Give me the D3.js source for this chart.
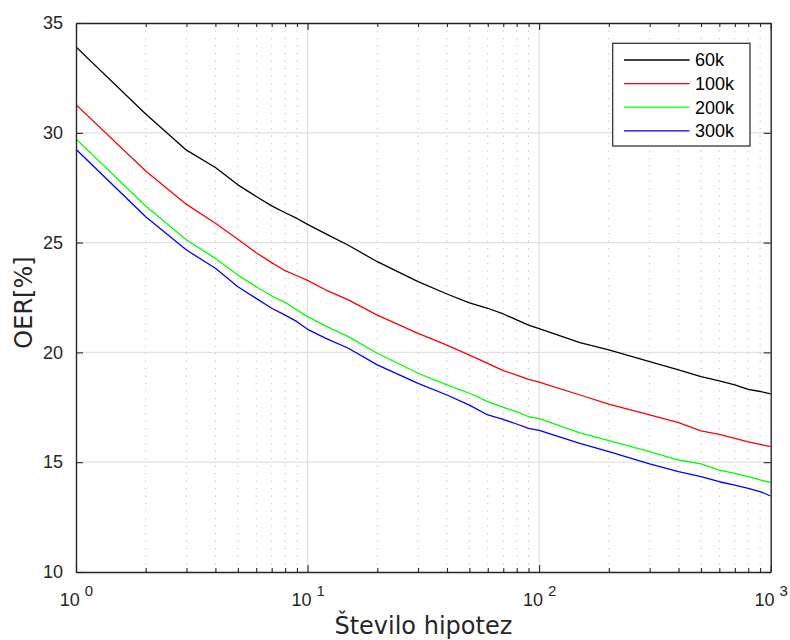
<!DOCTYPE html>
<html>
<head>
<meta charset="utf-8">
<script src="https://cdn.jsdelivr.net/npm/d3@7"></script>
<style>
  html, body { margin: 0; padding: 0; background: #fff; }
  svg { display: block; }
</style>
</head>
<body>
<svg id="chart" width="790" height="640"></svg>
<script>
// Number of hypotheses (log axis) and error rate per training-set size
const hypotheses = [1, 2, 3, 4, 5, 6, 7, 8, 9, 10, 12, 15, 20, 30, 40, 50, 60, 70, 80, 90,
                    100, 150, 200, 300, 400, 500, 600, 700, 800, 900, 1000];
const oer60k  = [33.91, 30.86, 29.21, 28.42, 27.63, 27.10, 26.67, 26.36, 26.10, 25.83, 25.40, 24.88,
                 24.13, 23.22, 22.66, 22.26, 22.01, 21.75, 21.48, 21.24, 21.08, 20.44, 20.11, 19.58,
                 19.20, 18.90, 18.70, 18.52, 18.32, 18.22, 18.11];
const oer100k = [31.28, 28.26, 26.74, 25.88, 25.15, 24.54, 24.09, 23.72, 23.49, 23.28, 22.84, 22.39,
                 21.70, 20.87, 20.33, 19.88, 19.50, 19.17, 18.97, 18.77, 18.65, 18.06, 17.65, 17.15,
                 16.80, 16.43, 16.27, 16.09, 15.93, 15.81, 15.71];
const oer200k = [29.72, 26.67, 25.12, 24.28, 23.52, 22.99, 22.57, 22.28, 21.93, 21.63, 21.20, 20.72,
                 19.96, 19.05, 18.52, 18.14, 17.76, 17.50, 17.30, 17.07, 16.98, 16.34, 15.98, 15.48,
                 15.10, 14.92, 14.64, 14.49, 14.34, 14.19, 14.07];
const oer300k = [29.25, 26.18, 24.66, 23.83, 22.99, 22.46, 22.01, 21.70, 21.40, 21.05, 20.64, 20.19,
                 19.43, 18.59, 18.06, 17.60, 17.15, 16.95, 16.74, 16.54, 16.45, 15.86, 15.48, 14.92,
                 14.57, 14.34, 14.11, 13.96, 13.81, 13.66, 13.46];

const seriesNames  = ["60k", "100k", "200k", "300k"];
const seriesValues = [oer60k, oer100k, oer200k, oer300k];
const seriesColors = ["#000000", "#ff0000", "#00ff00", "#0000ff"];

const xMajorTicks = [1, 10, 100, 1000];
const xTickExponents = ["0", "1", "2", "3"];
const yTicks = [10, 15, 20, 25, 30, 35];
const xLabel = "Število hipotez";
const yLabel = "OER[%]";

// ---- layout ----
const W = 790, H = 640;
const plotL = 76, plotR = 770.7, plotT = 23, plotB = 572;
const axisColor = "#262626";
const tickFont = "'Liberation Sans', Arial, Helvetica, sans-serif";
const labelFont = "'DejaVu Sans', sans-serif";

const svg = d3.select("#chart");
svg.append("rect").attr("width", W).attr("height", H).attr("fill", "#fff");

const x = d3.scaleLog().domain([1, 1000]).range([plotL, plotR]);
const y = d3.scaleLinear().domain([10, 35]).range([plotB, plotT]);

const xMinorTicks = [];
[1, 10, 100].forEach(d => { for (let k = 2; k <= 9; k++) xMinorTicks.push(d * k); });

// ---- grid ----
const grid = svg.append("g");
grid.selectAll("line.minor").data(xMinorTicks).join("line")
  .attr("x1", d => x(d)).attr("x2", d => x(d))
  .attr("y1", plotT).attr("y2", plotB)
  .attr("stroke", "#bdbdbd").attr("stroke-width", 1)
  .attr("stroke-dasharray", "1.2,6.3");
grid.selectAll("line.vmajor").data(xMajorTicks.slice(1, -1)).join("line")
  .attr("x1", d => x(d)).attr("x2", d => x(d))
  .attr("y1", plotT).attr("y2", plotB)
  .attr("stroke", "#e1e1e1").attr("stroke-width", 1.3);
grid.selectAll("line.hmajor").data(yTicks.slice(1, -1)).join("line")
  .attr("x1", plotL).attr("x2", plotR)
  .attr("y1", d => y(d)).attr("y2", d => y(d))
  .attr("stroke", "#e1e1e1").attr("stroke-width", 1.3);

// ---- data lines ----
svg.append("clipPath").attr("id", "plotClip")
  .append("rect").attr("x", plotL).attr("y", plotT)
  .attr("width", plotR - plotL).attr("height", plotB - plotT);

const line = d3.line()
  .x(d => x(d[0]))
  .y(d => y(d[1]));

const lines = svg.append("g").attr("clip-path", "url(#plotClip)");
seriesValues.forEach((vals, i) => {
  lines.append("path")
    .datum(hypotheses.map((h, j) => [h, vals[j]]))
    .attr("fill", "none")
    .attr("stroke", seriesColors[i])
    .attr("stroke-width", 1.3)
    .attr("stroke-linejoin", "round")
    .attr("d", line);
});

// ---- axes ----
function styleAxis(g) {
  g.selectAll("path.domain").attr("stroke", axisColor).attr("stroke-width", 1.4);
  g.selectAll(".tick line").attr("stroke", axisColor).attr("stroke-width", 1.1);
}

// bottom
svg.append("g").attr("transform", `translate(0,${plotB})`)
  .call(d3.axisBottom(x).tickValues(xMinorTicks).tickSize(-4).tickSizeOuter(0).tickFormat(""))
  .call(styleAxis).select("path.domain").remove();
const xb = svg.append("g").attr("transform", `translate(0,${plotB})`)
  .call(d3.axisBottom(x).tickValues(xMajorTicks).tickSize(-7).tickSizeOuter(0).tickFormat(""))
  .call(styleAxis);
xb.selectAll(".tick text").remove();
xb.selectAll(".tick").each(function(d, i) {
  const t = d3.select(this).append("text")
    .attr("y", 33.5)
    .attr("text-anchor", "middle")
    .attr("fill", axisColor)
    .style("font-family", tickFont)
    .style("font-size", "18px");
  t.append("tspan").text("10");
  t.append("tspan").attr("dx", 5).attr("dy", -10).style("font-size", "15px").text(xTickExponents[i]);
});

// top
svg.append("g").attr("transform", `translate(0,${plotT})`)
  .call(d3.axisTop(x).tickValues(xMinorTicks).tickSize(-4).tickSizeOuter(0).tickFormat(""))
  .call(styleAxis).select("path.domain").remove();
svg.append("g").attr("transform", `translate(0,${plotT})`)
  .call(d3.axisTop(x).tickValues(xMajorTicks).tickSize(-7).tickSizeOuter(0).tickFormat(""))
  .call(styleAxis);

// left
const yl = svg.append("g").attr("transform", `translate(${plotL},0)`)
  .call(d3.axisLeft(y).tickValues(yTicks).tickSize(-7).tickSizeOuter(0).tickPadding(13))
  .call(styleAxis);
yl.selectAll(".tick text")
  .attr("fill", axisColor)
  .style("font-family", tickFont)
  .style("font-size", "18px");

// right
svg.append("g").attr("transform", `translate(${plotR},0)`)
  .call(d3.axisRight(y).tickValues(yTicks).tickSize(-7).tickSizeOuter(0).tickFormat(""))
  .call(styleAxis);

// ---- axis titles ----
svg.append("text")
  .attr("x", (plotL + plotR) / 2).attr("y", 634)
  .attr("text-anchor", "middle")
  .attr("fill", axisColor)
  .style("font-family", labelFont).style("font-size", "24px")
  .text(xLabel);

svg.append("text")
  .attr("transform", `translate(32,${(plotT + plotB) / 2 + 5}) rotate(-90)`)
  .attr("text-anchor", "middle")
  .attr("fill", axisColor)
  .style("font-family", labelFont).style("font-size", "24px")
  .text(yLabel);

// ---- legend ----
const lg = svg.append("g");
lg.append("rect")
  .attr("x", 612.7).attr("y", 43.3).attr("width", 137.3).attr("height", 102.7)
  .attr("fill", "#fff").attr("stroke", axisColor).attr("stroke-width", 1.2);
seriesNames.forEach((name, i) => {
  const ly = 60 + i * 23.6;
  lg.append("line")
    .attr("x1", 624).attr("x2", 689.5).attr("y1", ly).attr("y2", ly)
    .attr("stroke", seriesColors[i]).attr("stroke-width", 1.3);
  lg.append("text")
    .attr("x", 695).attr("y", ly).attr("dy", "0.35em")
    .attr("fill", "#000")
    .style("font-family", tickFont).style("font-size", "18px")
    .text(name);
});
</script>
</body>
</html>
